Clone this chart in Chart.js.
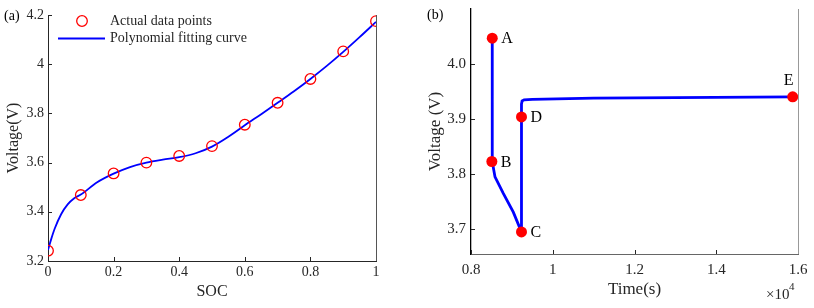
<!DOCTYPE html>
<html>
<head>
<meta charset="utf-8">
<script src="https://cdn.jsdelivr.net/npm/chart.js@4"></script>
<style>
  body { margin: 0; background: #fff; }
  .panel { position: absolute; top: 0; height: 308px; }
</style>
</head>
<body>
<div class="panel" style="left:0;width:410px"><canvas id="chartA" width="410" height="308"></canvas></div>
<div class="panel" style="left:410px;width:404px"><canvas id="chartB" width="404" height="308"></canvas></div>
<script>
// (a) SOC-OCV data
const socPoints = [0, 0.1, 0.2, 0.3, 0.4, 0.5, 0.6, 0.7, 0.8, 0.9, 1.0];
const voltPoints = [3.242, 3.468, 3.556, 3.600, 3.627, 3.667, 3.754, 3.843, 3.940, 4.052, 4.175];
const socCurve = [0, 0.01, 0.02, 0.04, 0.06, 0.08, 0.1, 0.15, 0.2, 0.25, 0.3, 0.35, 0.4, 0.45, 0.5,
  0.55, 0.6, 0.65, 0.7, 0.75, 0.8, 0.85, 0.9, 0.95, 1.0];
const voltCurve = [3.245, 3.29, 3.33, 3.39, 3.43, 3.455, 3.47, 3.52, 3.555, 3.582, 3.600, 3.612, 3.622, 3.638, 3.665,
  3.705, 3.752, 3.797, 3.843, 3.89, 3.94, 3.993, 4.05, 4.11, 4.172];

// (b) pulse response data
const timeCurve = [8520, 8520, 8587, 8790, 9035, 9223, 9235, 9235, 9250, 9300, 9500, 11000, 13000, 15870];
const voltPulse = [4.047, 3.823, 3.795, 3.765, 3.731, 3.697, 3.697, 3.927, 3.933, 3.935, 3.936, 3.938, 3.939, 3.9405];
const markNames = ['A', 'B', 'C', 'D', 'E'];
const markTime = [8520, 8510, 9235, 9235, 15870];
const markVolt = [4.047, 3.823, 3.695, 3.904, 3.9405];

const SERIF = '"Liberation Serif", "Times New Roman", serif';
const TXT = '#262626';
Chart.defaults.font.family = SERIF;

// inward ticks + right border, MATLAB style
const innerTicks = {
  id: 'innerTicks',
  afterDraw(chart, args, opts) {
    const ctx = chart.ctx, a = chart.chartArea;
    const xs = chart.scales.x, ys = chart.scales.y;
    ctx.save();
    ctx.lineWidth = 1;
    ctx.strokeStyle = opts.tickColor;
    ctx.beginPath();
    xs.ticks.forEach(t => {
      const px = Math.round(xs.getPixelForValue(t.value)) + 0.5;
      ctx.moveTo(px, a.bottom); ctx.lineTo(px, a.bottom - 4);
    });
    ys.ticks.forEach(t => {
      const py = Math.round(ys.getPixelForValue(t.value)) + 0.5;
      ctx.moveTo(a.left, py); ctx.lineTo(a.left + 4, py);
    });
    ctx.stroke();
    ctx.strokeStyle = opts.boxColor;
    ctx.beginPath();
    ctx.moveTo(Math.round(a.right) + 0.5, a.top);
    ctx.lineTo(Math.round(a.right) + 0.5, a.bottom);
    ctx.stroke();
    ctx.restore();
  }
};

const legendA = {
  id: 'legendA',
  afterDraw(chart) {
    const ctx = chart.ctx;
    ctx.save();
    ctx.font = '14px ' + SERIF;
    ctx.fillStyle = '#000';
    ctx.textBaseline = 'middle';
    ctx.fillText('(a)', 4, 16);
    ctx.fillStyle = TXT;
    ctx.strokeStyle = '#ff0000';
    ctx.lineWidth = 1.3;
    ctx.beginPath();
    ctx.arc(82, 21, 5.3, 0, Math.PI * 2);
    ctx.stroke();
    ctx.fillText('Actual data points', 110, 21);
    ctx.strokeStyle = '#0000ff';
    ctx.lineWidth = 1.8;
    ctx.beginPath();
    ctx.moveTo(58, 38.5); ctx.lineTo(105, 38.5);
    ctx.stroke();
    ctx.fillText('Polynomial fitting curve', 110, 38);
    ctx.restore();
  }
};

const labelsB = {
  id: 'labelsB',
  afterDraw(chart) {
    const ctx = chart.ctx;
    const xs = chart.scales.x, ys = chart.scales.y;
    ctx.save();
    ctx.fillStyle = '#000';
    ctx.font = '14px ' + SERIF;
    ctx.textBaseline = 'middle';
    ctx.fillText('(b)', 17, 15);
    ctx.font = '16px ' + SERIF;
    markNames.forEach((n, i) => {
      const px = xs.getPixelForValue(markTime[i]);
      const py = ys.getPixelForValue(markVolt[i]);
      if (n === 'E') {
        ctx.textAlign = 'center';
        ctx.fillText(n, px - 4, py - 16);
      } else {
        ctx.textAlign = 'left';
        ctx.fillText(n, px + 9, py + 1);
      }
    });
    ctx.fillStyle = TXT;
    ctx.textAlign = 'left';
    ctx.textBaseline = 'alphabetic';
    ctx.font = '15px ' + SERIF;
    ctx.fillText('\u00d710', 356, 299);
    ctx.font = '11px ' + SERIF;
    ctx.fillText('4', 379, 290);
    ctx.restore();
  }
};

function axisFont(size) { return { family: SERIF, size: size }; }
function noPad(s) { s.paddingTop = 0; s.paddingBottom = 0; s.paddingLeft = 0; s.paddingRight = 0; }

new Chart(document.getElementById('chartA'), {
  type: 'scatter',
  data: {
    datasets: [
      {
        label: 'Polynomial fitting curve',
        data: socCurve.map((s, i) => ({ x: s, y: voltCurve[i] })),
        showLine: true,
        borderColor: '#0000ff',
        borderWidth: 1.8,
        pointRadius: 0,
        tension: 0.4,
        cubicInterpolationMode: 'monotone',
        order: 2
      },
      {
        label: 'Actual data points',
        data: socPoints.map((s, i) => ({ x: s, y: voltPoints[i] })),
        showLine: false,
        pointRadius: 5.3,
        pointBorderWidth: 1.3,
        pointBorderColor: '#ff0000',
        pointBackgroundColor: 'rgba(0,0,0,0)',
        order: 1
      }
    ]
  },
  options: {
    responsive: false,
    animation: false,
    layout: { padding: { top: 15, right: 34, left: 0, bottom: 0 } },
    plugins: {
      legend: { display: false },
      tooltip: { enabled: false },
      innerTicks: { tickColor: '#262626', boxColor: '#555' }
    },
    scales: {
      x: {
        type: 'linear', min: 0, max: 1,
        afterFit: s => { s.height = 47; noPad(s); },
        ticks: { stepSize: 0.2, color: TXT, font: axisFont(14), padding: 3, maxRotation: 0,
          callback: v => String(Math.round(v * 10) / 10) },
        grid: { display: true, drawOnChartArea: false, drawTicks: false },
        border: { color: '#262626', width: 1 },
        title: { display: true, text: 'SOC', color: TXT, font: axisFont(16), padding: { top: 0, bottom: 7 } }
      },
      y: {
        type: 'linear', min: 3.2, max: 4.2,
        afterFit: s => { s.width = 48; noPad(s); },
        ticks: { stepSize: 0.2, color: TXT, font: axisFont(14), padding: 4,
          callback: v => String(Math.round(v * 10) / 10) },
        grid: { display: true, drawOnChartArea: false, drawTicks: false },
        border: { color: '#262626', width: 1 },
        title: { display: true, text: 'Voltage(V)', color: TXT, font: axisFont(16), padding: { top: 4, bottom: 0 } }
      }
    }
  },
  plugins: [innerTicks, legendA]
});

new Chart(document.getElementById('chartB'), {
  type: 'scatter',
  data: {
    datasets: [
      {
        label: 'Voltage',
        data: timeCurve.map((t, i) => ({ x: t, y: voltPulse[i] })),
        showLine: true,
        borderColor: '#0000ff',
        borderWidth: 2.8,
        pointRadius: 0,
        tension: 0,
        order: 2
      },
      {
        label: 'Points',
        data: markTime.map((t, i) => ({ x: t, y: markVolt[i] })),
        showLine: false,
        pointRadius: 5.5,
        pointBorderWidth: 0,
        pointBackgroundColor: '#ff0000',
        order: 1
      }
    ]
  },
  options: {
    responsive: false,
    animation: false,
    layout: { padding: { top: 9, right: 16, left: 0, bottom: 0 } },
    plugins: {
      legend: { display: false },
      tooltip: { enabled: false },
      innerTicks: { tickColor: '#262626', boxColor: '#999' }
    },
    scales: {
      x: {
        type: 'linear', min: 8000, max: 16000,
        afterFit: s => { s.height = 54; noPad(s); },
        ticks: { stepSize: 2000, color: TXT, font: axisFont(15), padding: 7, maxRotation: 0,
          callback: v => String(Math.round(v / 1000) / 10) },
        grid: { display: true, drawOnChartArea: false, drawTicks: false },
        border: { color: '#666', width: 1 },
        title: { display: true, text: 'Time(s)', color: TXT, font: axisFont(17), padding: { top: 0, bottom: 8 } }
      },
      y: {
        type: 'linear', min: 3.655, max: 4.1,
        afterFit: s => { s.width = 61; noPad(s); },
        afterBuildTicks: s => { s.ticks = [3.7, 3.8, 3.9, 4.0].map(v => ({ value: v })); },
        ticks: { color: TXT, font: axisFont(15), padding: 5,
          callback: v => Number(v).toFixed(1) },
        grid: { display: true, drawOnChartArea: false, drawTicks: false },
        border: { color: '#000', width: 1.3 },
        title: { display: true, text: 'Voltage (V)', color: TXT, font: axisFont(17), padding: { top: 15, bottom: 0 } }
      }
    }
  },
  plugins: [innerTicks, labelsB]
});
</script>
</body>
</html>
